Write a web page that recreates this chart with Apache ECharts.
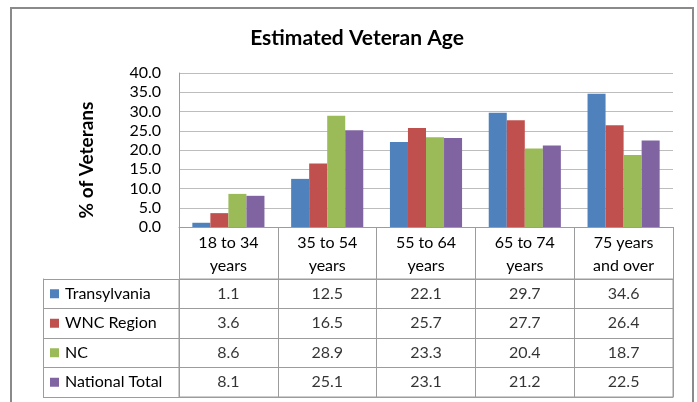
<!DOCTYPE html>
<html>
<head>
<meta charset="utf-8">
<script src="https://cdn.jsdelivr.net/npm/echarts@6/dist/echarts.min.js"></script>
<style>
html,body{margin:0;padding:0;background:#fff;}
#main{width:697px;height:402px;}
</style>
</head>
<body>
<div id="main"></div>
<script>
const categories = ['18 to 34\nyears', '35 to 54\nyears', '55 to 64\nyears', '65 to 74\nyears', '75 years\nand over'];
const seriesNames = ['Transylvania', 'WNC Region', 'NC', 'National Total'];
const transylvania = [1.1, 12.5, 22.1, 29.7, 34.6];
const wncRegion = [3.6, 16.5, 25.7, 27.7, 26.4];
const nc = [8.6, 28.9, 23.3, 20.4, 18.7];
const nationalTotal = [8.1, 25.1, 23.1, 21.2, 22.5];
const yTicks = [0, 5, 10, 15, 20, 25, 30, 35, 40];

const values = [transylvania, wncRegion, nc, nationalTotal];
const colors = ['#4F81BD', '#C0504D', '#9BBB59', '#8064A2'];
const FONT = 'Lato, "Open Sans", sans-serif';
const FS = 16;
const tableLine = '#9c9c9c';
const gridLine = '#bdbdbd';

const rich = {g: {width: 6}};
colors.forEach((c, i) => { rich['s' + i] = {width: 9, height: 9, backgroundColor: c}; });
rich.t = {fontSize: FS, fontFamily: FONT, color: '#000'};

const chart = echarts.init(document.getElementById('main'), null, {renderer: 'canvas'});

const barSeries = seriesNames.map((n, i) => ({
  name: n,
  type: 'bar',
  xAxisIndex: 0,
  yAxisIndex: 0,
  data: values[i],
  itemStyle: {color: colors[i]},
  barGap: '0%',
  barCategoryGap: '27%'
}));

const tableSeries = seriesNames.map((n, i) => ({
  name: n + ' table',
  type: 'scatter',
  xAxisIndex: 1,
  yAxisIndex: 1,
  symbolSize: 0,
  data: values[i].map((v, j) => [j, i, v]),
  label: {
    show: true,
    position: 'inside',
    formatter: p => p.value[2].toFixed(1),
    fontSize: FS,
    fontFamily: FONT,
    color: '#000'
  },
  silent: true
}));

chart.setOption({
  animation: false,
  backgroundColor: '#fff',
  title: {
    text: 'Estimated Veteran Age',
    left: 352,
    textAlign: 'center',
    top: 23,
    textStyle: {fontSize: 21, fontWeight: 'bold', fontFamily: FONT, color: '#000'}
  },
  graphic: [{
    type: 'rect',
    shape: {x: 11, y: 8, width: 682, height: 410},
    style: {fill: 'none', stroke: '#8a8a8a', lineWidth: 2},
    silent: true
  }],
  grid: [
    {left: 179, right: 24, top: 73, height: 154, containLabel: false},
    {left: 179, right: 24, top: 279, height: 118, containLabel: false,
     show: true, borderColor: tableLine, borderWidth: 1, backgroundColor: 'transparent'}
  ],
  xAxis: [
    {
      type: 'category', gridIndex: 0, data: categories,
      axisLine: {show: true, lineStyle: {color: tableLine}},
      axisTick: {show: true, length: 52, interval: 0, lineStyle: {color: tableLine}},
      axisLabel: {interval: 0, margin: 4, fontSize: FS, lineHeight: 23, fontFamily: FONT, color: '#000'},
      splitLine: {show: false}
    },
    {
      type: 'category', gridIndex: 1, data: categories,
      axisLine: {show: true, lineStyle: {color: tableLine}},
      axisTick: {show: false},
      axisLabel: {show: false},
      splitLine: {show: true, interval: 0, lineStyle: {color: tableLine}}
    }
  ],
  yAxis: [
    {
      type: 'value', gridIndex: 0, min: yTicks[0], max: yTicks[yTicks.length - 1], interval: 5,
      name: '% of Veterans', nameLocation: 'middle', nameGap: 83,
      nameTextStyle: {fontSize: 19, fontWeight: 'bold', fontFamily: FONT, color: '#000', padding: [0, 20, 0, 0]},
      axisLine: {show: true, lineStyle: {color: tableLine}},
      axisTick: {show: false},
      axisLabel: {margin: 18, fontSize: FS, fontFamily: FONT, color: '#000', formatter: v => v.toFixed(1)},
      splitLine: {show: true, lineStyle: {color: gridLine}}
    },
    {
      type: 'category', gridIndex: 1, data: seriesNames, inverse: true,
      axisLine: {show: true, lineStyle: {color: tableLine}},
      axisTick: {show: true, length: 136, interval: 0, lineStyle: {color: tableLine}},
      axisLabel: {
        interval: 0, align: 'left', margin: 129, rich: rich,
        formatter: (v, i) => '{s' + i + '| }{g|}{t|' + v + '}'
      },
      splitLine: {show: true, interval: 0, lineStyle: {color: tableLine}}
    },
    {
      type: 'category', gridIndex: 1, data: seriesNames, inverse: true, position: 'left', offset: 136,
      axisLine: {show: true, lineStyle: {color: tableLine}},
      axisTick: {show: false},
      axisLabel: {show: false},
      splitLine: {show: false}
    }
  ],
  series: barSeries.concat(tableSeries)
});
</script>
</body>
</html>
